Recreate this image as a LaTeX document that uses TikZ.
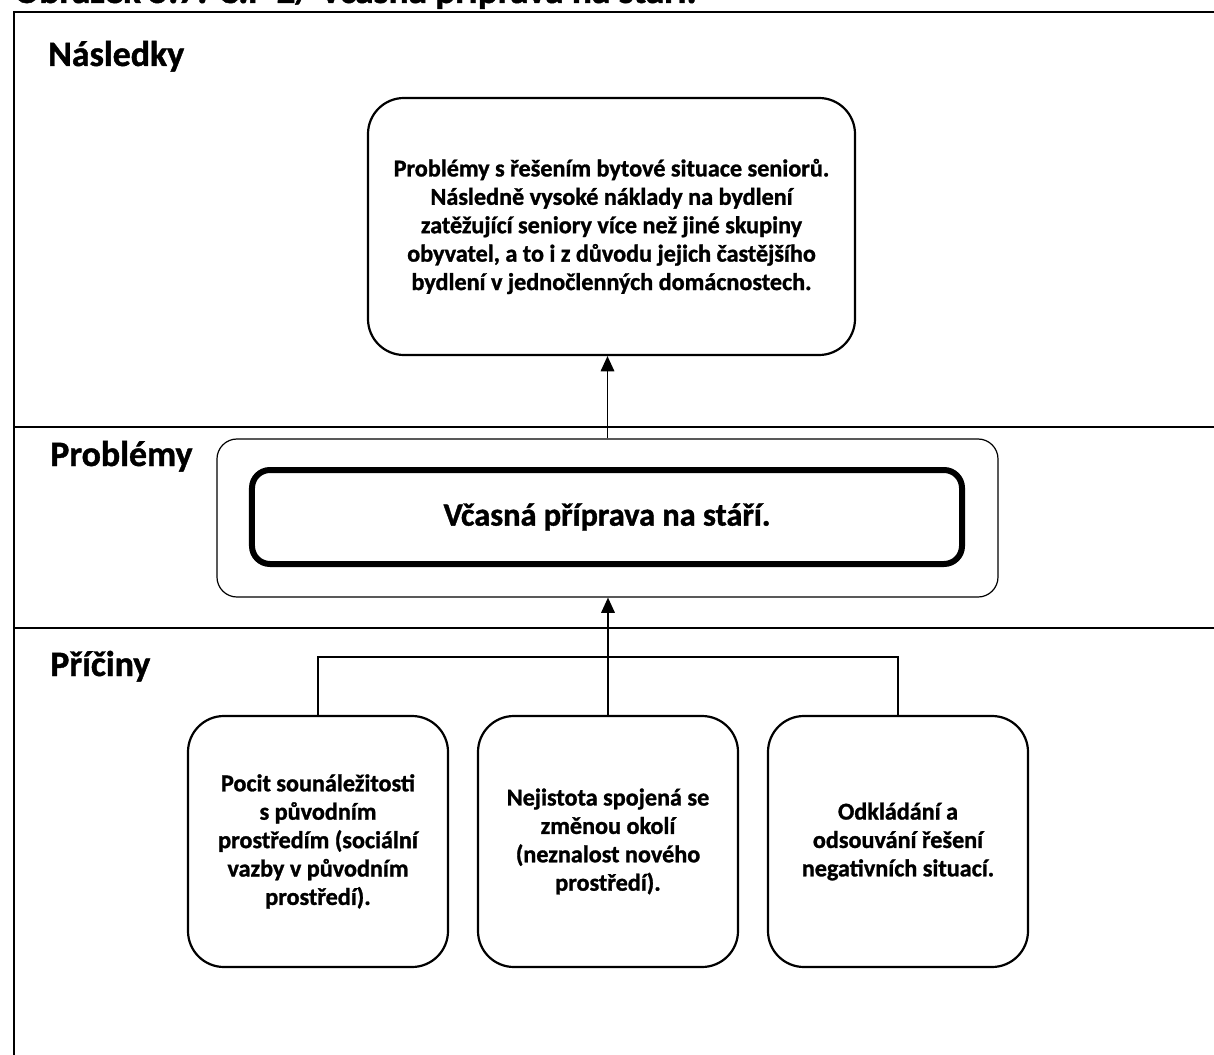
\documentclass[tikz,border=0pt]{standalone}
\usepackage{fontspec}
\setmainfont{Carlito}[BoldFeatures={FakeBold=1.2}]
\usetikzlibrary{positioning,arrows.meta,calc}
\tikzset{
  fig/.style={font=\bfseries},
  hdr/.style={font=\fontsize{25.5}{30}\selectfont\bfseries,anchor=base west,inner sep=0pt},
  rbox/.style={draw,line width=0.55mm,rounded corners=9mm,align=center,inner sep=0pt,
               font=\fontsize{17.2}{20.2}\selectfont\bfseries},
  frameln/.style={line width=0.5mm},
  ln/.style={-{Triangle[length=3.8mm,width=3.4mm]},line width=0.35mm},
  cn/.style={line width=0.3mm},
}

\begin{document}
\begin{tikzpicture}[fig,x=0.25mm,y=-0.25mm,
  cause/.style={rbox,minimum width=65mm,minimum height=62.75mm},
  outerbox/.style={draw,line width=0.3mm,rounded corners=5mm,minimum width=195.25mm,minimum height=39.5mm},
  innerbox/.style={draw,line width=1.5mm,rounded corners=4.5mm,minimum width=177.5mm,minimum height=23.5mm,
                   font=\fontsize{23}{27}\selectfont\bfseries}]

\useasboundingbox (0,0) rectangle (1214,1055);
\clip (0,0) rectangle (1214,1055);

% ------------------------------------------------ frame and rows
\node[anchor=base west,inner sep=0pt,font=\fontsize{26.5}{30}\selectfont\bfseries] (cap) at (14,3)
  {Obrázek 5.7: C.P 2/ Včasná příprava na stáří.};
\draw[frameln] (1300,12) -| (14,1100);
\draw[frameln] (14,427) -- (1300,427);
\draw[frameln] (14,628) -- (1300,628);

\node[hdr] (hnas) at (48,66)  {Následky};
\node[hdr] (hpro) at (50,466) {Problémy};
\node[hdr] (hpri) at (50,676) {Příčiny};

% ------------------------------------------------ consequence
\node[rbox,minimum width=121.75mm,minimum height=64.25mm] (top) at (611.5,226.5)
  {Problémy s řešením bytové situace seniorů.\\
   Následně vysoké náklady na bydlení\\
   zatěžující seniory více než jiné skupiny\\
   obyvatel, a to i z důvodu jejich častějšího\\
   bydlení v jednočlenných domácnostech.};

% ------------------------------------------------ problem
\node[outerbox] (prob) at (607.5,518) {};
\node[innerbox] (probin) at (607,517) {Včasná příprava na stáří.};

% ------------------------------------------------ causes
\foreach \x/\t [count=\n from 1] in {%
  318/{Pocit sounáležitosti\\s původním\\prostředím (sociální\\vazby v původním\\prostředí).},
  608/{Nejistota spojená se\\změnou okolí\\(neznalost nového\\prostředí).},
  898/{Odkládání a\\odsouvání řešení\\negativních situací.}}
  {\node[cause] (c\n) at (\x,841.5) {\t};}

% ------------------------------------------------ connectors
\coordinate (hub) at (608,657);
\draw[cn] (c1.north) -- (c1.north |- hub) -- (c3.north |- hub) -- (c3.north);
\draw[ln] (c2.north) -- (prob.south -| c2.north);
\draw[ln] (prob.north) -- (prob.north |- top.south);

\end{tikzpicture}
\end{document}
